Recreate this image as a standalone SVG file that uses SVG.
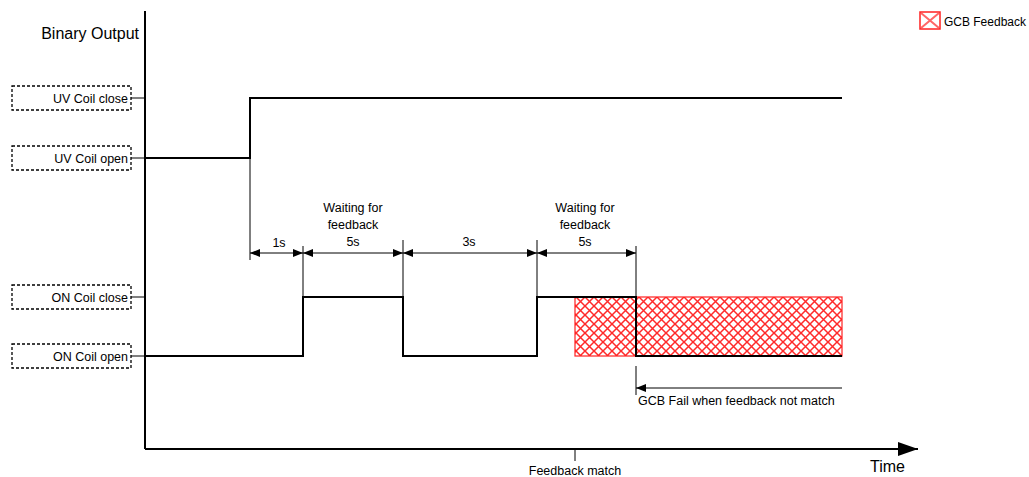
<svg xmlns="http://www.w3.org/2000/svg" width="1029" height="477" viewBox="0 0 1029 477">
<defs>
<pattern id="hatch" width="9" height="9" patternUnits="userSpaceOnUse">
<path d="M0,0 L9,9 M9,0 L0,9" stroke="#ff2a2a" stroke-width="1.5" fill="none"/>
</pattern>
<marker id="ah" viewBox="0 0 10 8" refX="10" refY="4" markerWidth="10" markerHeight="8" markerUnits="userSpaceOnUse" orient="auto-start-reverse">
<path d="M0,0 L10,4 L0,8 Z" fill="#000"/>
</marker>
<marker id="big" viewBox="0 0 20 14" refX="20" refY="7" markerWidth="20" markerHeight="14" markerUnits="userSpaceOnUse" orient="auto">
<path d="M0,0 L20,7 L0,14 Z" fill="#000"/>
</marker>
</defs>
<style>
text{font-family:"Liberation Sans",Arial,sans-serif;font-size:12.5px;fill:#000}
.big{font-size:16px}
.leg{font-size:12px}
.box{fill:#fff;stroke:#000;stroke-width:1.3;stroke-dasharray:3,2}
.thin{stroke:#000;stroke-width:1;fill:none}
.sig{stroke:#000;stroke-width:2;fill:none}
.hatch{fill:url(#hatch);stroke:#ff2020;stroke-width:1.2}
</style>
<rect width="1029" height="477" fill="#fff"/>

<g id="legend">
<rect x="920" y="12" width="20" height="17" fill="#fff" stroke="#ff2020" stroke-width="1.5"/>
<path d="M921,13 L939,28 M939,13 L921,28" stroke="#ff4040" stroke-width="2" opacity="0.8"/>
<text x="1026" y="26" class="leg" text-anchor="end">GCB Feedback</text>
</g>

<g id="feedback-area">
<rect x="575" y="297" width="267" height="59" class="hatch"/>
</g>

<g id="axes">
<line x1="145" y1="11" x2="145" y2="449" class="sig"/>
<line x1="145" y1="449" x2="918" y2="449" class="sig" marker-end="url(#big)"/>
<text x="139" y="39" class="big" text-anchor="end">Binary Output</text>
<text x="905" y="472" class="big" text-anchor="end">Time</text>
</g>

<g id="uv-close">
<rect x="12" y="86" width="119" height="24" class="box"/>
<text x="128" y="103" text-anchor="end">UV Coil close</text>
</g>
<g id="uv-open">
<rect x="12" y="146" width="119" height="24" class="box"/>
<text x="128" y="163" text-anchor="end">UV Coil open</text>
</g>
<g id="on-close">
<rect x="12" y="285" width="119" height="24" class="box"/>
<text x="128" y="302" text-anchor="end">ON Coil close</text>
</g>
<g id="on-open">
<rect x="12" y="344" width="119" height="24" class="box"/>
<text x="128" y="361" text-anchor="end">ON Coil open</text>
</g>

<g id="connectors">
<line x1="131" y1="98" x2="145" y2="98" class="thin"/>
<line x1="131" y1="158" x2="145" y2="158" class="thin"/>
<line x1="131" y1="297" x2="145" y2="297" class="thin"/>
<line x1="131" y1="356" x2="145" y2="356" class="thin"/>

<polyline points="145,158 250,158 250,98 842,98" class="sig"/>
<polyline points="145,356 303,356 303,297 403,297 403,356 537,356 537,297 636,297 636,356 842,356" class="sig"/>

<line x1="250" y1="158" x2="250" y2="260" class="thin"/>
<line x1="303" y1="246" x2="303" y2="297" class="thin"/>
<line x1="403" y1="240" x2="403" y2="297" class="thin"/>
<line x1="537" y1="240" x2="537" y2="297" class="thin"/>
<line x1="636" y1="246" x2="636" y2="297" class="thin"/>
<line x1="636" y1="366" x2="636" y2="395" class="thin"/>
<line x1="575" y1="449" x2="575" y2="461" class="thin"/>

<line x1="250" y1="253" x2="303" y2="253" class="thin" marker-start="url(#ah)" marker-end="url(#ah)"/>
<line x1="303" y1="253" x2="403" y2="253" class="thin" marker-start="url(#ah)" marker-end="url(#ah)"/>
<line x1="403" y1="253" x2="537" y2="253" class="thin" marker-start="url(#ah)" marker-end="url(#ah)"/>
<line x1="537" y1="253" x2="636" y2="253" class="thin" marker-start="url(#ah)" marker-end="url(#ah)"/>
<line x1="842" y1="388" x2="636" y2="388" class="thin" marker-end="url(#ah)"/>
</g>

<g id="labels">
<text x="279" y="247" text-anchor="middle">1s</text>
<text x="353" y="212" text-anchor="middle">Waiting for</text>
<text x="353" y="229" text-anchor="middle">feedback</text>
<text x="353" y="246" text-anchor="middle">5s</text>
<text x="469" y="246" text-anchor="middle">3s</text>
<text x="585" y="212" text-anchor="middle">Waiting for</text>
<text x="585" y="229" text-anchor="middle">feedback</text>
<text x="585" y="246" text-anchor="middle">5s</text>
<text x="638" y="405">GCB Fail when feedback not match</text>
<text x="575" y="475" text-anchor="middle">Feedback match</text>
</g>
</svg>
